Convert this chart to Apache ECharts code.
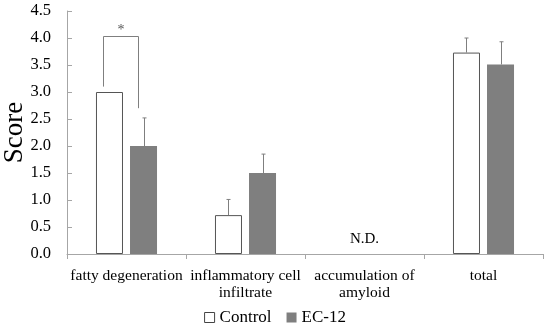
<!DOCTYPE html>
<html><head><meta charset="utf-8">
<script src="https://cdn.jsdelivr.net/npm/echarts@6/dist/echarts.min.js"></script>
<style>html,body{margin:0;padding:0;background:#fff}#c{width:550px;height:328px}</style>
</head><body><div id="c"></div>
<script>
var categories = ['fatty degeneration', 'inflammatory cell\ninfiltrate', 'accumulation of\namyloid', 'total'];
var controlValues = [3.0, 0.72, null, 3.73];
var controlErrTop = [3.0, 1.01, null, 4.0];
var ec12Values = [2.0, 1.5, null, 3.51];
var ec12ErrTop = [2.52, 1.85, null, 3.93];
var yTicks = [0, 0.5, 1, 1.5, 2, 2.5, 3, 3.5, 4, 4.5];
var bracket = {cat: 0, leftBase: 3.1, top: 4.03, rightBase: 2.7, label: '*'};
var ndLabel = {cat: 2, value: 0.27, text: 'N.D.'};

var FONT = 'Liberation Serif';
var GRAY = '#7f7f7f';
var BW = 0.227, GAP = 0.26;

function barOffset(api, side) {
  var cw = api.size([1, 0])[0];
  var bw = BW * cw;
  return side * (bw + GAP * bw) / 2;
}

function errSeries(values, tops, side) {
  return {
    type: 'custom', silent: true, z: 5,
    data: values.map(function (v, i) { return [i, v == null ? 0 : v, tops[i] == null ? 0 : tops[i]]; }),
    renderItem: function (params, api) {
      var lo = api.value(1), hi = api.value(2);
      if (hi <= lo) return null;
      var off = barOffset(api, side);
      var p1 = api.coord([api.value(0), lo]);
      var p2 = api.coord([api.value(0), hi]);
      var x = Math.round(p1[0] + off) + 0.5;
      return {type: 'group', children: [
        {type: 'line', shape: {x1: x, y1: p1[1], x2: x, y2: p2[1]}, style: {stroke: GRAY, lineWidth: 1}},
        {type: 'line', shape: {x1: x - 2, y1: p2[1], x2: x + 2, y2: p2[1]}, style: {stroke: GRAY, lineWidth: 1}}
      ]};
    }
  };
}

var chart = echarts.init(document.getElementById('c'));
chart.setOption({
  animation: false,
  grid: {left: 67, right: 7, top: 11, bottom: 74, outerBoundsMode: 'none', containLabel: false},
  legend: {
    bottom: -3, left: 'center', itemWidth: 10, itemHeight: 10, itemGap: 15,
    textStyle: {fontFamily: FONT, fontSize: 17, color: '#000'},
    data: [
      {name: 'Control', icon: 'rect', itemStyle: {color: '#fff', borderColor: '#444', borderWidth: 1}},
      {name: 'EC-12', icon: 'rect', itemStyle: {color: GRAY}}
    ]
  },
  xAxis: {
    type: 'category', data: categories,
    axisLine: {lineStyle: {color: '#a6a6a6'}},
    axisTick: {show: true, length: 5, lineStyle: {color: '#a6a6a6'}},
    axisLabel: {interval: 0, fontFamily: FONT, fontSize: 15.5, color: '#000', lineHeight: 17, margin: 13}
  },
  yAxis: {
    type: 'value', min: 0, max: 4.5, interval: 0.5,
    name: 'Score', nameLocation: 'middle', nameRotate: 90, nameGap: 39, nameMoveOverlap: false,
    nameTextStyle: {fontFamily: FONT, fontSize: 27, color: '#000'},
    axisLine: {show: true, lineStyle: {color: '#a6a6a6'}},
    axisTick: {show: true, inside: true, length: 5, lineStyle: {color: '#a6a6a6'}},
    splitLine: {show: false},
    axisLabel: {fontFamily: FONT, fontSize: 16.5, color: '#000', margin: 16,
      formatter: function (v) { return v.toFixed(1); }}
  },
  series: [
    {name: 'Control', type: 'bar', data: controlValues, barWidth: (BW * 100) + '%', barGap: (GAP * 100) + '%',
      itemStyle: {color: '#fff', borderColor: '#555', borderWidth: 1}},
    {name: 'EC-12', type: 'bar', data: ec12Values, barWidth: (BW * 100) + '%',
      itemStyle: {color: GRAY}},
    errSeries(controlValues, controlErrTop, -1),
    errSeries(ec12Values, ec12ErrTop, 1),
    {
      type: 'custom', silent: true, z: 6,
      data: [[bracket.cat, bracket.leftBase, bracket.top, bracket.rightBase]],
      renderItem: function (params, api) {
        var c = api.value(0);
        var offL = barOffset(api, -1) - 6, offR = barOffset(api, 1) - 6;
        var a = api.coord([c, api.value(1)]);
        var t = api.coord([c, api.value(2)]);
        var b = api.coord([c, api.value(3)]);
        var xl = Math.round(a[0] + offL) + 0.5, xr = Math.round(a[0] + offR) + 0.5;
        var ty = Math.round(t[1]) + 0.5;
        return {type: 'group', children: [
          {type: 'polyline', shape: {points: [[xl, a[1]], [xl, ty], [xr, ty], [xr, b[1]]]},
            style: {stroke: GRAY, lineWidth: 1, fill: null}},
          {type: 'text', style: {text: bracket.label, x: (xl + xr) / 2, y: ty + 1,
            align: 'center', verticalAlign: 'bottom', fontSize: 14, fontFamily: FONT, fill: '#555'}}
        ]};
      }
    },
    {
      type: 'custom', silent: true,
      data: [[ndLabel.cat, ndLabel.value]],
      renderItem: function (params, api) {
        var p = api.coord([api.value(0), api.value(1)]);
        return {type: 'text', style: {text: ndLabel.text, x: p[0], y: p[1], align: 'center',
          verticalAlign: 'middle', fontSize: 15, fontFamily: FONT, fill: '#000'}};
      }
    }
  ]
});
</script></body></html>
